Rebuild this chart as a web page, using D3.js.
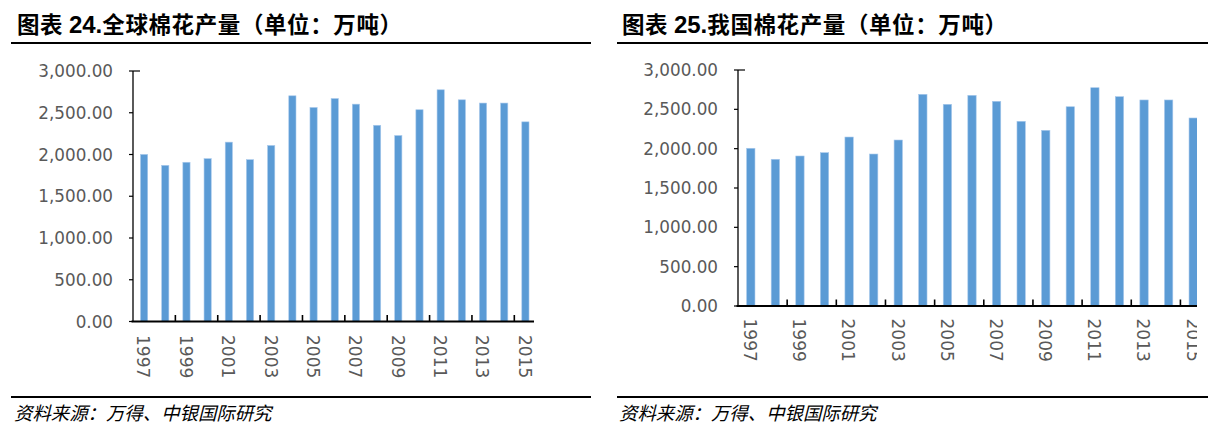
<!DOCTYPE html>
<html>
<head>
<meta charset="utf-8">
<script src="https://cdn.jsdelivr.net/npm/d3@7/dist/d3.min.js"></script>
<style>
  html, body { margin: 0; padding: 0; background: #ffffff; }
  svg { display: block; }
</style>
</head>
<body>
<script>
// ---- data ----
const years = ["1997","1998","1999","2000","2001","2002","2003","2004","2005","2006",
               "2007","2008","2009","2010","2011","2012","2013","2014","2015"];
const globalOutput = [2001, 1870, 1907, 1950, 2148, 1938, 2108, 2703, 2563, 2670,
                      2603, 2350, 2227, 2536, 2775, 2655, 2616, 2616, 2391];
const chinaOutput  = [2005, 1865, 1907, 1949, 2148, 1932, 2110, 2691, 2564, 2678,
                      2602, 2348, 2233, 2533, 2775, 2661, 2619, 2619, 2390];
const yTicks = [0, 500, 1000, 1500, 2000, 2500, 3000];
const xLabelYears = ["1997","1999","2001","2003","2005","2007","2009","2011","2013","2015"];
const titleNumbers = ["24.", "25."];
const titleTexts = ["全球棉花产量（单位：万吨）", "我国棉花产量（单位：万吨）"];
const sourceText = "资料来源：万得、中银国际研究";

const W = 1232, H = 434;
const svg = d3.select("body").append("svg").attr("width", W).attr("height", H);
svg.append("rect").attr("width", W).attr("height", H).attr("fill", "#ffffff");

const fmt = d3.format(",.2f");
const BAR = "#5B9BD5";

function drawPanel(p) {
  const g = svg.append("g");
  if (p.clipRight) {
    const id = "clip" + p.idx;
    svg.append("clipPath").attr("id", id).append("rect")
      .attr("x", p.x0 - 200).attr("y", 0).attr("width", p.clipRight - (p.x0 - 200)).attr("height", H);
    g.attr("clip-path", `url(#${id})`);
  }
  // title
  const t = svg.append("text").attr("x", p.titleX).attr("y", 33)
    .attr("font-weight", "bold").attr("font-size", 22.5).attr("fill", "#000");
  t.append("tspan").attr("font-family", "'Noto Sans CJK SC'").attr("letter-spacing", 0.6).text("图表 ");
  t.append("tspan").attr("font-family", "'Liberation Sans Narrow','Liberation Sans',sans-serif")
    .attr("font-size", 24).text(p.num);
  t.append("tspan").attr("font-family", "'Noto Sans CJK SC'").attr("letter-spacing", 0.6).text(p.title);
  svg.append("line").attr("x1", p.lineX1).attr("x2", p.lineX2).attr("y1", 43).attr("y2", 43)
    .attr("stroke", "#000").attr("stroke-width", 2.2);

  // footer
  svg.append("line").attr("x1", p.lineX1).attr("x2", p.lineX2).attr("y1", 397).attr("y2", 397)
    .attr("stroke", "#000").attr("stroke-width", 2.2);
  svg.append("text").attr("x", p.footX).attr("y", 420)
    .attr("font-family", "'Noto Sans CJK SC'").attr("font-style", "italic")
    .attr("font-size", 18.4).attr("fill", "#000").text(sourceText);

  const x = d3.scaleBand().domain(years).range([p.x0, p.x1]).paddingInner(0).paddingOuter(0);
  const y = d3.scaleLinear().domain([0, 3000]).range([p.yBase, p.yTop]);
  const bw = x.bandwidth() * 0.34;

  // y axis labels
  svg.append("g").selectAll("text").data(yTicks).join("text")
    .attr("x", p.x0 - 20).attr("y", d => y(d)).attr("dy", "0.36em")
    .attr("text-anchor", "end").attr("font-family", "'DejaVu Sans'")
    .attr("font-size", 16.8).attr("fill", "#595959").text(d => fmt(d));

  // y axis line + ticks
  svg.append("line").attr("x1", p.x0).attr("x2", p.x0).attr("y1", y(3000)).attr("y2", y(0))
    .attr("stroke", "#000").attr("stroke-width", 1.3);
  svg.append("g").selectAll("line").data(yTicks).join("line")
    .attr("x1", p.x0 - 4).attr("x2", p.x0).attr("y1", d => y(d)).attr("y2", d => y(d))
    .attr("stroke", "#000").attr("stroke-width", 1.2);
  svg.append("line").attr("x1", p.x0).attr("x2", p.x0 + 7).attr("y1", y(3000)).attr("y2", y(3000))
    .attr("stroke", "#000").attr("stroke-width", 1.2);

  // bars
  g.append("g").selectAll("rect").data(p.values).join("rect")
    .attr("x", (d, i) => x(years[i]) + (x.bandwidth() - bw) / 2 + 0.5)
    .attr("y", d => y(d))
    .attr("width", bw)
    .attr("height", d => y(0) - y(d))
    .attr("fill", BAR).attr("stroke", "#A8C9EC").attr("stroke-width", 0.6);

  // x axis baseline
  g.append("line").attr("x1", p.x0 - 1.5).attr("x2", p.x1 - 1.5).attr("y1", y(0)).attr("y2", y(0))
    .attr("stroke", "#000").attr("stroke-width", 2.2);
  // ticks at band boundaries every two categories
  const tickIdx = d3.range(2, years.length, 2);
  g.append("g").selectAll("line").data(tickIdx).join("line")
    .attr("x1", i => x(years[i])).attr("x2", i => x(years[i]))
    .attr("y1", y(0)).attr("y2", y(0) - 6.5)
    .attr("stroke", "#000").attr("stroke-width", 1.6);

  // x labels (rotated)
  g.append("g").selectAll("text").data(xLabelYears).join("text")
    .attr("transform", d => `translate(${x(d) + x.bandwidth() / 2},${y(0) + p.labelGap}) rotate(90)`)
    .attr("dy", "0.36em").attr("text-anchor", "start")
    .attr("font-family", "'DejaVu Sans'").attr("font-size", 17).attr("fill", "#595959")
    .text(d => d);
}

drawPanel({ idx: 0, values: globalOutput, num: titleNumbers[0], title: titleTexts[0],
  titleX: 17, lineX1: 11, lineX2: 591, footX: 14,
  x0: 133, x1: 535.5, yBase: 321.5, yTop: 71, labelGap: 13.5 });
drawPanel({ idx: 1, values: chinaOutput, num: titleNumbers[1], title: titleTexts[1],
  titleX: 622, lineX1: 617, lineX2: 1208, footX: 619,
  x0: 738, x1: 1205, yBase: 306, yTop: 70, labelGap: 12.5, clipRight: 1197 });
</script>
</body>
</html>
